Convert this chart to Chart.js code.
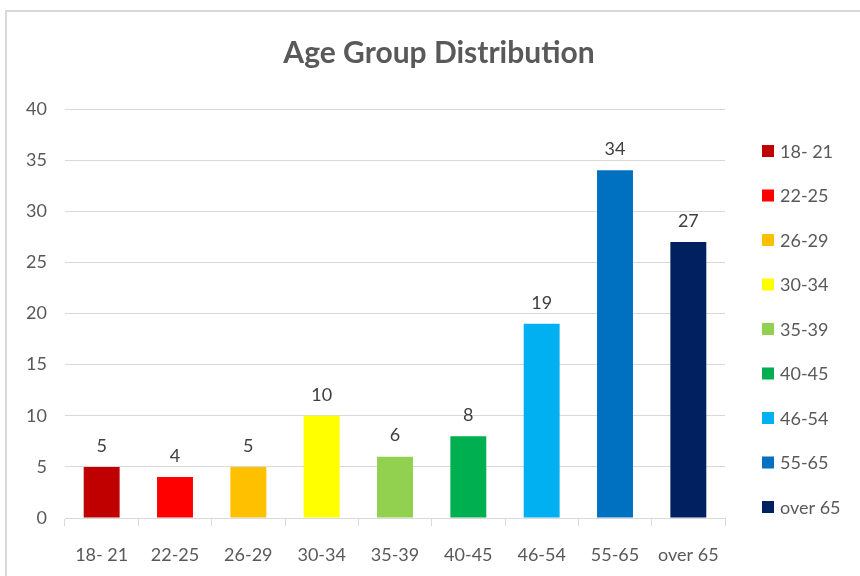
<!DOCTYPE html>
<html>
<head>
<meta charset="utf-8">
<script src="https://cdn.jsdelivr.net/npm/chart.js@4/dist/chart.umd.min.js"></script>
<style>
  html, body { margin: 0; padding: 0; background: #ffffff; }
  #frame { position: absolute; left: 5px; top: 10px; width: 900px; height: 700px;
           border-left: 2px solid #d9d9d9; border-top: 2px solid #d9d9d9; }
  #wrap { position: absolute; left: 0; top: 0; width: 860px; height: 576px; }
</style>
</head>
<body>
<div id="frame"></div>
<div id="wrap"><canvas id="c" width="860" height="576"></canvas></div>
<script>
const categories = ['18- 21', '22-25', '26-29', '30-34', '35-39', '40-45', '46-54', '55-65', 'over 65'];
const counts = [5, 4, 5, 10, 6, 8, 19, 34, 27];
const barColors = ['#C00000', '#FF0000', '#FFC000', '#FFFF00', '#92D050', '#00B050', '#00B0F0', '#0070C0', '#002060'];
const yTicks = [0, 5, 10, 15, 20, 25, 30, 35, 40];
const chartTitle = 'Age Group Distribution';

const FONT = 'Lato, "Open Sans", sans-serif';
const TEXT = '#595959';

const valueLabels = {
  id: 'valueLabels',
  afterDatasetsDraw(chart) {
    const ctx = chart.ctx;
    const meta = chart.getDatasetMeta(0);
    ctx.save();
    ctx.font = '18px ' + FONT;
    ctx.fillStyle = '#404040';
    ctx.textAlign = 'center';
    ctx.textBaseline = 'middle';
    meta.data.forEach((bar, i) => {
      ctx.fillText(String(chart.data.datasets[0].data[i]), bar.x, bar.y - 21);
    });
    ctx.restore();
  }
};

// Category legend on the right (one entry per bar colour)
const sideLegend = {
  id: 'sideLegend',
  afterDraw(chart) {
    const ctx = chart.ctx;
    const area = chart.chartArea;
    const x0 = area.right + 37;
    const y0 = 151;
    const step = 44.5;
    ctx.save();
    ctx.font = '18px ' + FONT;
    ctx.textAlign = 'left';
    ctx.textBaseline = 'middle';
    chart.data.labels.forEach((lab, i) => {
      const cy = y0 + i * step;
      ctx.fillStyle = barColors[i];
      ctx.fillRect(x0, cy - 6, 12, 12);
      ctx.fillStyle = TEXT;
      ctx.fillText(lab, x0 + 18, cy + 1);
    });
    ctx.restore();
  }
};

new Chart(document.getElementById('c'), {
  type: 'bar',
  data: {
    labels: categories,
    datasets: [{
      label: 'Count',
      data: counts,
      backgroundColor: barColors,
      borderWidth: 0,
      barPercentage: 0.49,
      categoryPercentage: 1.0
    }]
  },
  options: {
    responsive: false,
    animation: false,
    layout: { padding: { top: 10, right: 0, bottom: 0, left: 18 } },
    plugins: {
      title: {
        display: true,
        text: chartTitle,
        color: TEXT,
        font: { family: FONT, size: 30, weight: 'bold' },
        padding: { top: 25, bottom: 38 }
      },
      legend: { display: false },
      tooltip: { enabled: false }
    },
    scales: {
      x: {
        grid: { display: true, drawOnChartArea: false, drawTicks: true, tickLength: 8, color: '#d9d9d9', offset: true },
        border: { display: true, color: '#d9d9d9' },
        ticks: { color: TEXT, font: { family: FONT, size: 18 }, padding: 18, maxRotation: 0, autoSkip: false },
        afterFit(scale) { scale.height = 58; }
      },
      y: {
        min: 0,
        max: 40,
        afterBuildTicks(scale) { scale.ticks = yTicks.map(v => ({ value: v })); },
        grid: { color: '#d9d9d9', drawTicks: false },
        border: { display: false },
        ticks: { color: TEXT, font: { family: FONT, size: 18 }, padding: 18 },
        afterFit(scale) { scale.width = 47; }
      },
      legendSpace: {
        type: 'linear',
        position: 'right',
        display: true,
        grid: { display: false, drawTicks: false },
        border: { display: false },
        ticks: { display: false },
        afterFit(scale) { scale.width = 135; }
      }
    }
  },
  plugins: [valueLabels, sideLegend]
});
</script>
</body>
</html>
